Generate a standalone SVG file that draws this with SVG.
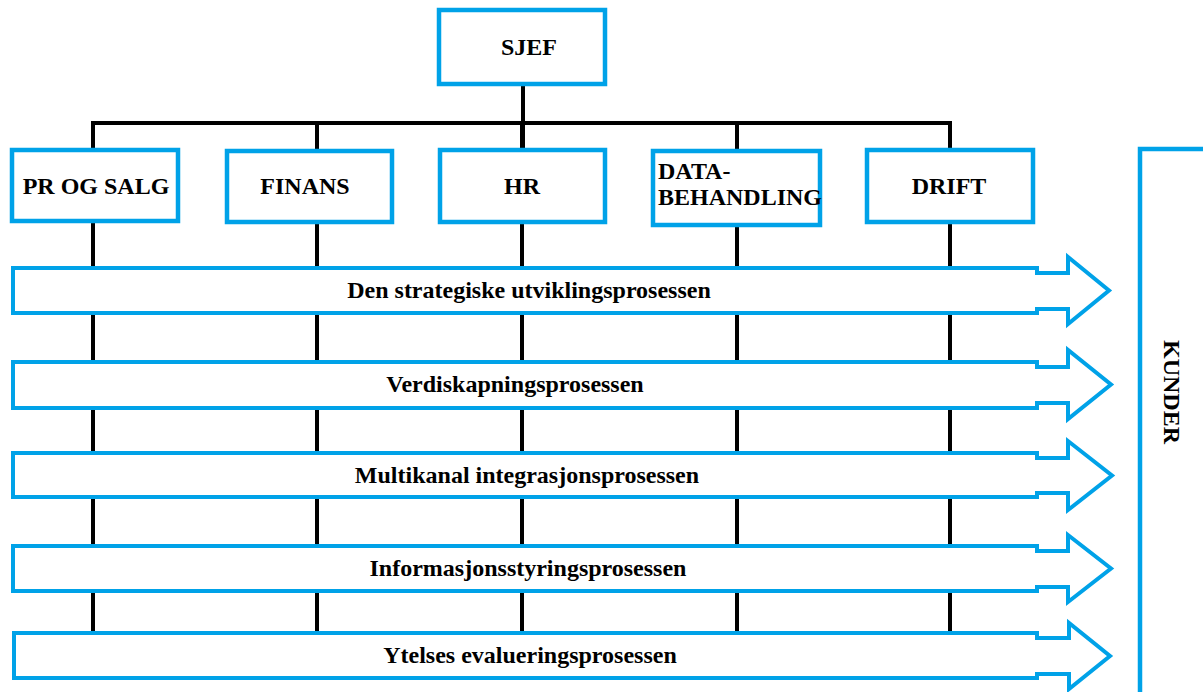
<svg xmlns="http://www.w3.org/2000/svg" width="1203" height="692" viewBox="0 0 1203 692">
<style>
.box{fill:#fff;stroke:#00A2E8;stroke-width:4.5}
.arr{fill:#fff;stroke:#00A2E8;stroke-width:4;stroke-linejoin:miter}
.ln{stroke:#000;stroke-width:4;fill:none}
.t{font-family:"Liberation Serif","Times New Roman",serif;font-weight:bold;font-size:24px;fill:#000}
.m{text-anchor:middle}
</style>
<rect width="1203" height="692" fill="#fff"/>
<g id="connectors">
<line class="ln" x1="523" y1="86" x2="523" y2="150"/>
<line class="ln" x1="91" y1="123" x2="952" y2="123"/>
<line class="ln" x1="93" y1="121" x2="93" y2="640"/>
<line class="ln" x1="317" y1="121" x2="317" y2="640"/>
<line class="ln" x1="522" y1="121" x2="522" y2="640"/>
<line class="ln" x1="737" y1="121" x2="737" y2="640"/>
<line class="ln" x1="950" y1="121" x2="950" y2="640"/>
</g>
<g id="sjef"><rect class="box" x="439" y="10" width="166" height="74"/><text class="t m" x="529" y="55">SJEF</text></g>
<g id="pr-og-salg"><rect class="box" x="12" y="150" width="166" height="71"/><text class="t m" x="96" y="194">PR OG SALG</text></g>
<g id="finans"><rect class="box" x="227" y="151" width="165" height="71"/><text class="t m" x="305" y="194">FINANS</text></g>
<g id="hr"><rect class="box" x="440" y="150" width="165" height="72"/><text class="t m" x="522" y="194">HR</text></g>
<g id="databehandling"><rect class="box" x="653" y="151" width="167" height="74"/><text class="t" x="658" y="179">DATA-</text><text class="t" x="658" y="205">BEHANDLING</text></g>
<g id="drift"><rect class="box" x="867" y="150" width="166" height="72"/><text class="t m" x="949" y="194">DRIFT</text></g>
<g id="kunder"><rect class="box" x="1140" y="149" width="100" height="600"/><text class="t m" transform="translate(1164,392) rotate(90)">KUNDER</text></g>
<g id="p1"><path class="arr" d="M13,268 H1037 V273 H1068 V257 L1109,290.5 L1068,324 V309 H1037 V313 H13 Z"/><text class="t m" x="529" y="298">Den strategiske utviklingsprosessen</text></g>
<g id="p2"><path class="arr" d="M13,362 H1037 V367 H1068 V350 L1111,384.5 L1068,419 V403 H1037 V408 H13 Z"/><text class="t m" x="515" y="392">Verdiskapningsprosessen</text></g>
<g id="p3"><path class="arr" d="M13,453 H1037 V458 H1068 V441 L1112,475.5 L1068,510 V493 H1037 V497 H13 Z"/><text class="t m" x="527" y="483">Multikanal integrasjonsprosessen</text></g>
<g id="p4"><path class="arr" d="M13,546 H1037 V551 H1068 V535 L1111,568.5 L1068,602 V587 H1037 V591 H13 Z"/><text class="t m" x="528" y="576">Informasjonsstyringsprosessen</text></g>
<g id="p5"><path class="arr" d="M14,633 H1037 V638 H1069 V623 L1110,656 L1069,689 V674 H1037 V678 H14 Z"/><text class="t m" x="530" y="663">Ytelses evalueringsprosessen</text></g>
</svg>
